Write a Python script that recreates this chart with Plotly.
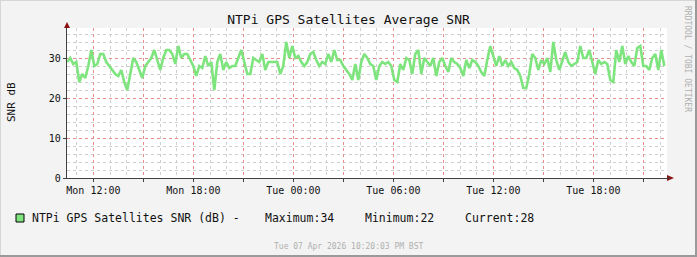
import plotly.graph_objects as go
import pandas as pd

# ---------------- data ----------------
snr_values = [
    # Mon ~10:25 .. ~13:40
    29, 30, 28.5, 29, 24, 26, 25, 28, 32, 28, 28.5, 31, 31, 29, 28, 27, 26, 25.5, 27, 24,
    22, 26, 30, 29, 27, 25, 28, 29, 30, 32, 29.5, 27, 30, 32, 32, 31, 28.5, 33, 30, 31,
    # next block
    31, 29.5, 28, 25.5, 28, 27.5, 30.5, 28, 29, 22, 29, 31, 27, 29, 27.5, 28, 28, 30, 32, 29,
    26, 26, 30, 29.5, 29, 31, 27, 29, 29, 29, 29, 26, 28, 34, 30, 33, 30, 30.5, 29, 28,
    # next block
    29, 31, 31.5, 29.5, 28, 29, 28.5, 31, 29, 32, 29.5, 29.5, 28, 27, 26, 24.5, 28.5, 24.5, 29, 31,
    30, 28.5, 28, 24.5, 28, 29, 28.5, 29, 28, 24.5, 24, 28.5, 27, 30, 29.5, 26, 31, 32, 26, 30,
    # next block
    29, 28, 30, 25.5, 29, 30, 28, 26.5, 30, 29, 28.5, 27.5, 25.5, 29.5, 27.5, 29.5, 29, 28, 26.5, 25.5,
    29.5, 33, 30.5, 28, 30.5, 28, 29.5, 28, 29, 27.5, 27, 25.5, 22.5, 22.5, 26, 31, 30, 27, 29.5, 28.5,
    # last block
    30, 26.5, 34, 29.5, 27, 29, 31.5, 29, 28, 28.5, 29, 33, 30, 30, 32, 29, 26, 29.5, 28.5, 29,
    28.5, 24.5, 24, 32, 29, 33, 28.5, 30.5, 29, 28, 32.5, 33, 28, 28, 27, 30, 31, 27, 32, 28,
]
series_start = "2026-04-06 10:26:00"
series_step = "648s"
times = pd.date_range(start=series_start, periods=len(snr_values), freq=series_step)

x_range = ["2026-04-06 10:25:00", "2026-04-07 22:25:00"]
x_tickvals = ["2026-04-06 12:00", "2026-04-06 15:00", "2026-04-06 18:00", "2026-04-06 21:00",
              "2026-04-07 00:00", "2026-04-07 03:00", "2026-04-07 06:00", "2026-04-07 09:00",
              "2026-04-07 12:00", "2026-04-07 15:00", "2026-04-07 18:00", "2026-04-07 21:00"]
x_ticktext = ["Mon 12:00", "", "Mon 18:00", "", "Tue 00:00", "", "Tue 06:00", "",
              "Tue 12:00", "", "Tue 18:00", ""]
y_tickvals = [0, 10, 20, 30]
y_ticktext = ["0", "10", "20", "30"]

title_text = "NTPi GPS Satellites Average SNR"
y_title = "SNR dB"
legend_label = "NTPi GPS Satellites SNR (dB) -"
footer_text = "Tue 07 Apr 2026 10:20:03 PM BST"
side_text = "RRDTOOL / TOBI OETIKER"

# ---------------- geometry helpers ----------------
W, H = 697, 257
L, R, T, B = 67, 667, 28, 178   # plot area in pixels
PW, PH = R - L, B - T


def px(x):
    return (x - L) / PW


def py(y):
    return (B - y) / PH


FONT = "DejaVu Sans Mono"
LINE_GREEN = "#7EE47E"
MINOR = "#CFCFCF"
MAJOR = "rgba(235,120,120,0.75)"
AXIS = "#404040"
ARROW = "#8B1010"

fig = go.Figure()
fig.add_trace(go.Scatter(
    x=times, y=snr_values, mode="lines",
    line=dict(color=LINE_GREEN, width=2.6, shape="linear"),
    hoverinfo="skip", showlegend=False,
))

fig.update_layout(
    width=W, height=H,
    margin=dict(l=L, r=W - R, t=T, b=H - B, pad=0),
    paper_bgcolor="#F3F3F3",
    plot_bgcolor="#FFFFFF",
    showlegend=False,
    font=dict(family=FONT, size=10, color="#222222"),
    title=dict(text=title_text, x=0.5, xanchor="center", y=1 - 19 / H, yanchor="middle",
               font=dict(family=FONT, size=13, color="#111111")),
)

fig.update_xaxes(
    type="date", range=x_range,
    tickmode="array", tickvals=x_tickvals, ticktext=x_ticktext,
    showgrid=True, gridcolor=MAJOR, griddash="dot", gridwidth=1,
    minor=dict(dtick=3600000, tick0="2026-04-06 00:00", showgrid=True,
               gridcolor=MINOR, griddash="dot", gridwidth=1),
    showline=True, linecolor=AXIS, linewidth=1.2,
    ticks="outside", ticklen=3, tickcolor=AXIS,
    tickfont=dict(family=FONT, size=10, color="#111111"),
    zeroline=False, fixedrange=True,
)
fig.update_yaxes(
    range=[0, 37.5],
    tickmode="array", tickvals=y_tickvals, ticktext=y_ticktext,
    showgrid=True, gridcolor=MAJOR, griddash="dot", gridwidth=1,
    minor=dict(dtick=2, tick0=0, showgrid=True, gridcolor=MINOR, griddash="dot", gridwidth=1),
    showline=True, linecolor=AXIS, linewidth=1.2,
    ticks="outside", ticklen=3, tickcolor=AXIS,
    tickfont=dict(family=FONT, size=10, color="#111111"),
    zeroline=False, fixedrange=True,
)

shapes = []
# arrows
shapes.append(dict(type="path", xref="paper", yref="paper",
                   path=f"M {px(64)} {py(28)} L {px(70)} {py(28)} L {px(67)} {py(22)} Z",
                   fillcolor=ARROW, line=dict(width=0)))
shapes.append(dict(type="path", xref="paper", yref="paper",
                   path=f"M {px(667)} {py(175)} L {px(667)} {py(181)} L {px(674)} {py(178)} Z",
                   fillcolor=ARROW, line=dict(width=0)))
shapes.append(dict(type="line", xref="paper", yref="paper", x0=px(667), x1=px(670),
                   y0=py(178), y1=py(178), line=dict(color=AXIS, width=1.2)))
# legend colour box
shapes.append(dict(type="rect", xref="paper", yref="paper",
                   x0=px(16), x1=px(24), y0=py(222), y1=py(214),
                   fillcolor=LINE_GREEN, line=dict(color="#000000", width=1)))
# frame
shapes.append(dict(type="line", xref="paper", yref="paper", x0=px(0), x1=px(697),
                   y0=py(0.5), y1=py(0.5), line=dict(color="#D6D6D6", width=1)))
shapes.append(dict(type="line", xref="paper", yref="paper", x0=px(0.5), x1=px(0.5),
                   y0=py(0), y1=py(257), line=dict(color="#D6D6D6", width=1)))
shapes.append(dict(type="line", xref="paper", yref="paper", x0=px(0), x1=px(697),
                   y0=py(256), y1=py(256), line=dict(color="#9A9A9A", width=2)))
shapes.append(dict(type="line", xref="paper", yref="paper", x0=px(696), x1=px(696),
                   y0=py(0), y1=py(257), line=dict(color="#9A9A9A", width=2)))
fig.update_layout(shapes=shapes)

vmax = max(snr_values)
vmin = min(snr_values)
vcur = snr_values[-1]

annotations = [
    dict(text=legend_label, x=px(30), y=py(218), xanchor="left", yanchor="middle"),
    dict(text=f"Maximum:{vmax:.0f}", x=px(263), y=py(218), xanchor="left", yanchor="middle"),
    dict(text=f"Minimum:{vmin:.0f}", x=px(363), y=py(218), xanchor="left", yanchor="middle"),
    dict(text=f"Current:{vcur:.0f}", x=px(463), y=py(218), xanchor="left", yanchor="middle"),
]
for a in annotations:
    a.update(xref="paper", yref="paper", showarrow=False,
             font=dict(family=FONT, size=11.5, color="#111111"))
annotations.append(dict(text=y_title, x=px(11), y=py(102), xref="paper", yref="paper",
                        xanchor="center", yanchor="middle", showarrow=False, textangle=-90,
                        font=dict(family=FONT, size=11, color="#111111")))
annotations.append(dict(text=footer_text, x=px(348.5), y=py(246), xref="paper", yref="paper",
                        xanchor="center", yanchor="middle", showarrow=False,
                        font=dict(family=FONT, size=8, color="#B0B0B0")))
annotations.append(dict(text=side_text, x=px(688), y=py(59), xref="paper", yref="paper",
                        xanchor="center", yanchor="middle", showarrow=False, textangle=90,
                        font=dict(family=FONT, size=8, color="#B0B0B0")))
fig.update_layout(annotations=annotations)

fig.write_html("out.html")
